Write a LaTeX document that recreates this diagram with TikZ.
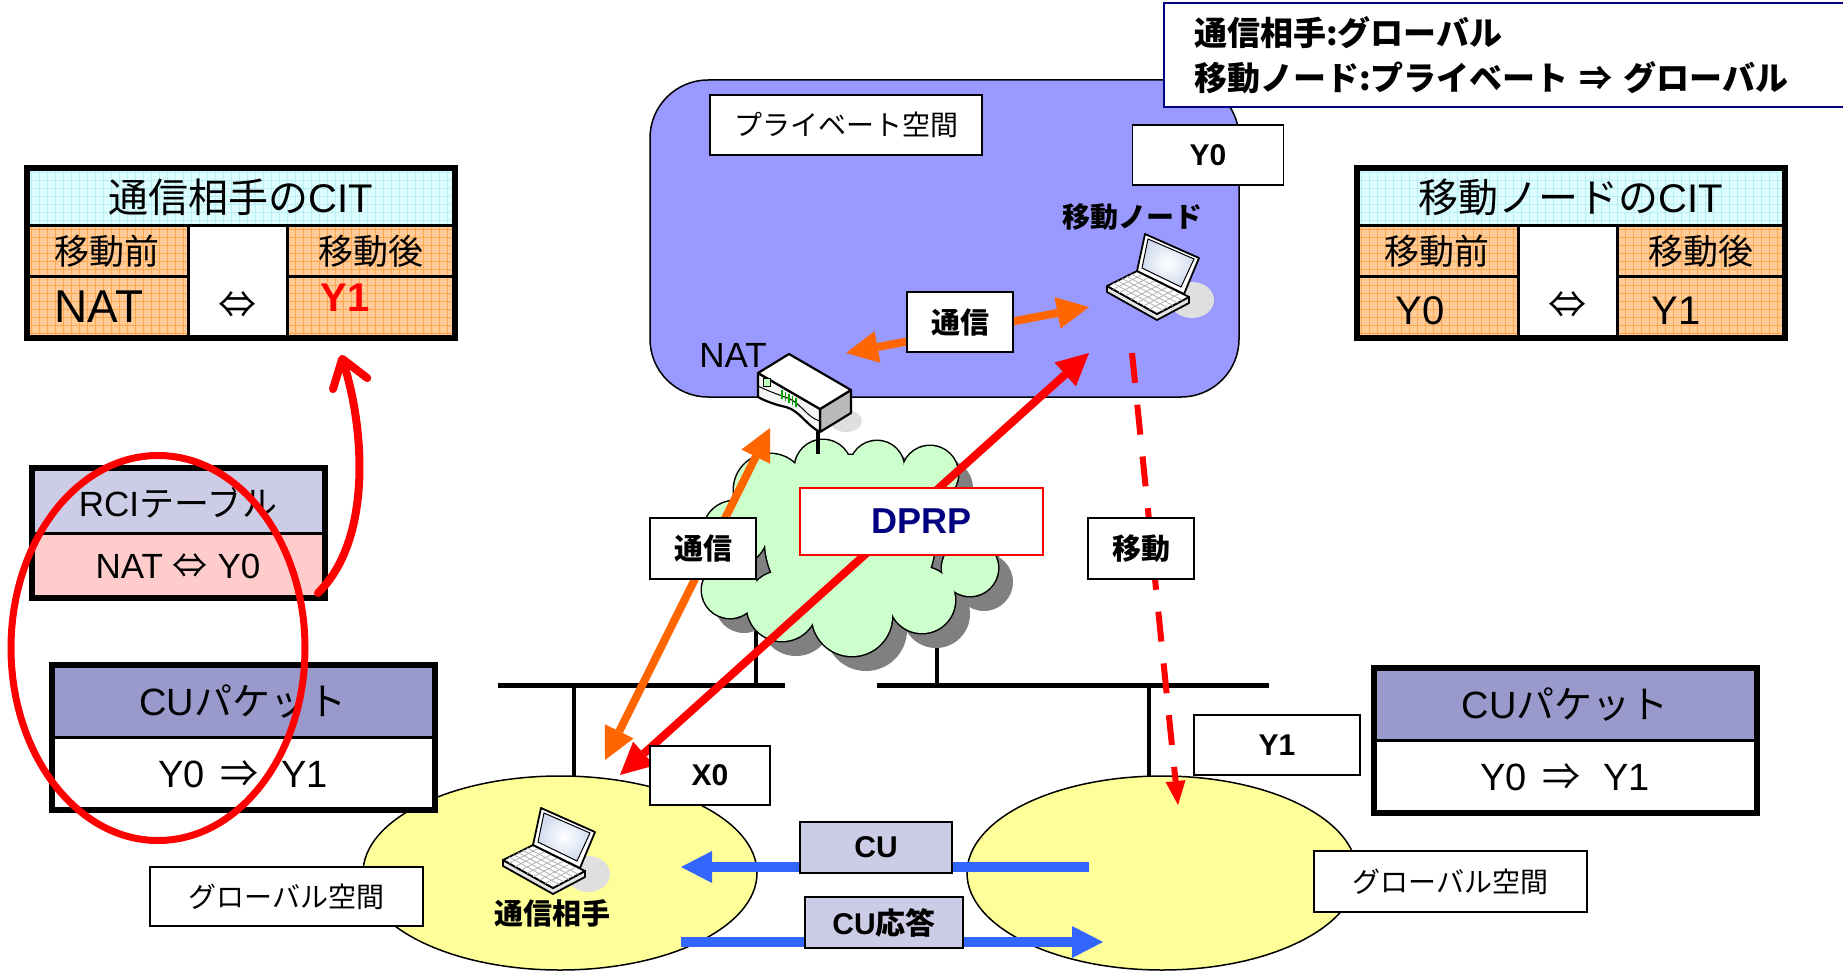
\documentclass[tikz,border=0pt]{standalone}
\usepackage{fontspec}
\setmainfont{Liberation Sans}
\newfontfamily\jp{Noto Sans CJK JP}
\usetikzlibrary{arrows.meta,calc,shapes.geometric}

\definecolor{privblue}{HTML}{9999FF}
\definecolor{cloudgreen}{HTML}{CCFFCC}
\definecolor{spaceyellow}{HTML}{FFFF99}
\definecolor{lavender}{HTML}{CCCCE6}
\definecolor{cuhead}{HTML}{9999CC}
\definecolor{rcirow}{HTML}{FFCCCC}
\definecolor{cithead}{HTML}{DDFDFF}
\definecolor{citgridc}{HTML}{B8EEF4}
\definecolor{citrow}{HTML}{FFCC99}
\definecolor{citgrido}{HTML}{FFA64D}
\definecolor{flowor}{HTML}{FF6600}
\definecolor{flowred}{HTML}{FF0000}
\definecolor{flowblue}{HTML}{3366FF}
\definecolor{navy}{HTML}{000080}
\definecolor{shadowgray}{HTML}{808080}
\definecolor{scrn}{HTML}{D2DCF0}

\newcommand\fsz[1]{\fontsize{#1}{#1}\selectfont}

\tikzset{
  box/.style={draw, fill=white, line width=1.5pt, inner sep=0pt},
  tag/.style={box, font=\fsz{30}\bfseries},
  jtag/.style={box, font=\fsz{29}\bfseries\jp},
  plain/.style={inner sep=0pt},
  bus/.style={line width=5pt},
  stub/.style={line width=4pt},
  flow/.style={line width=8pt},
  bigtip/.tip={Triangle[length=32pt,width=32pt,line width=0pt]},
  bluetip/.tip={Triangle[length=31pt,width=32pt,line width=0pt]},
  movetip/.tip={Triangle[length=24pt,width=20pt,line width=0pt]},
}

% cloud made of overlapping puffs, each enlarged by #1
\newcommand\cloudpuffs[1]{%
  \foreach \cx/\cy/\r in {823/468/28, 877/468/27, 930/474/28, 972/518/27,
      970/568/28, 922/600/33, 852/616/40, 782/606/35, 730/590/28,
      735/533/32, 770/490/36, 850/540/85}
    {\fill (\cx,\cy) circle[radius=\r+#1];}}

% notebook computer icon: #1 name, #2 position
\newcommand\laptop[2]{%
  \begin{scope}[shift={#2}]
    \coordinate (#1) at (0,0);
    \fill[gray!25] (40,22) ellipse[x radius=22, y radius=18];
    \coordinate (#1-a) at (-15,-7);
    \coordinate (#1-b) at (37,19);
    \coordinate (#1-c) at (5,36);
    \coordinate (#1-d) at (-45,8);
    \draw[line width=1.8pt, line join=round, fill=gray!20]
      (-45,8) -- (-45,14) -- (5,42) -- (37,25) -- (37,19) -- (5,36) -- cycle;
    \draw[line width=1.8pt, line join=round, fill=white]
      (#1-a) -- (#1-b) -- (#1-c) -- (#1-d) -- cycle;
    \foreach \t in {0.2,0.35,0.5,0.65,0.8}
      \draw[gray!60, line width=0.8pt] ($(#1-a)!\t!(#1-d)$) -- ($(#1-b)!\t!(#1-c)$);
    \foreach \t in {0.12,0.24,...,0.9}
      \draw[gray!60, line width=0.8pt] ($(#1-a)!\t!(#1-b)$) -- ($(#1-d)!\t!(#1-c)$);
    \draw[line width=1.8pt, line join=round, fill=white]
      (-15,-7) -- (32,16) -- (47,-20) -- (-7,-44) -- cycle;
    \path[inner color=white, outer color=scrn]
      (-10,-10) -- (29,9) -- (42,-19) -- (-4,-39) -- cycle;
    \draw[line width=1pt] (-10,-10) -- (29,9) -- (42,-19) -- (-4,-39) -- cycle;
  \end{scope}}

% address table of a node: #1 name, #2 left edge, #3 title
\newcommand\citframe[3]{%
  \begin{scope}[shift={(#2,0)}]
    \fill[cithead] (0,168) rectangle (428,225);
    \fill[citrow] (0,225) rectangle (161,338);
    \fill[citrow] (260,225) rectangle (428,338);
    \begin{scope}
      \clip (0,168) rectangle (428,225);
      \foreach \g in {4,12,...,428} \draw[citgridc, line width=0.6pt] (\g,168) -- (\g,225);
      \foreach \g in {172,180,...,225} \draw[citgridc, line width=0.6pt] (0,\g) -- (428,\g);
    \end{scope}
    \begin{scope}
      \clip (0,225) rectangle (161,338) (260,225) rectangle (428,338);
      \foreach \g in {4,12,...,428} \draw[citgrido, line width=0.6pt] (\g,225) -- (\g,338);
      \foreach \g in {229,237,...,338} \draw[citgrido, line width=0.6pt] (0,\g) -- (428,\g);
    \end{scope}
    \draw[line width=3pt] (0,225) -- (428,225) (161,225) -- (161,338)
      (260,225) -- (260,338) (0,276) -- (161,276) (260,276) -- (428,276);
    \draw[line width=6pt] (0,168) rectangle (428,338);
    \node[plain, font=\fsz{40}] (#1-title) at (214,197) {#3};
    \node[plain, font=\fsz{35}\jp] (#1-pre) at (80,251) {移動前};
    \node[plain, font=\fsz{35}\jp] (#1-post) at (344,251) {移動後};
    \node[plain, font=\fsz{38}\jp] (#1-link) at (210,305) {⇔};
  \end{scope}}

% CU packet table: #1 name, #2 top-left corner
\newcommand\cupacket[2]{%
  \begin{scope}[shift={#2}]
    \fill[white] (0,0) rectangle (383,145);
    \fill[cuhead] (0,0) rectangle (383,72);
    \draw[line width=3pt] (0,72) -- (383,72);
    \draw[line width=6pt] (0,0) rectangle (383,145);
    \node[plain, font=\fsz{38}] (#1-title) at (191,37) {CU{\jp パケット}};
    \node[plain, font=\fsz{38}] (#1-entry) at (191,109) {Y0\hspace{0.4em}{\jp ⇒}\hspace{0.6em}Y1};
  \end{scope}}

\begin{document}
\begin{tikzpicture}[x=1pt,y=-1pt]
\useasboundingbox (0,0) rectangle (1843,971);
\fill[white] (0,0) rectangle (1843,971);

% private address space
\node[draw, line width=1.5pt, fill=privblue, rounded corners=58pt,
      minimum width=589pt, minimum height=317pt, inner sep=0pt] (priv) at (944.5,238.5) {};

% network segments
\draw[bus] (498,685) -- (785,685);
\draw[bus] (877,685) -- (1269,685);
\draw[stub] (574,685) -- (574,782);
\draw[stub] (1149,685) -- (1149,782);
\draw[stub] (756,620) -- (756,685);
\draw[stub] (937,600) -- (937,685);

% internet cloud with drop shadow
\begin{scope}[shift={(14,14)}, shadowgray]
  \cloudpuffs{1}
\end{scope}
\begin{scope}[black]
  \cloudpuffs{1.5}
\end{scope}
\begin{scope}[cloudgreen]
  \cloudpuffs{0}
\end{scope}
\coordinate (cloud) at (850,540);

% NAT router
\coordinate (rtr) at (818,428);
\coordinate (cloudtop) at (818,454);
\draw[stub] (rtr) -- (cloudtop);
\fill[gray!25] (846,421) ellipse[x radius=16, y radius=11];
\draw[line width=2.2pt, line join=round, fill=gray!55]
  (820,409) -- (851,390) -- (851,413) -- (820,432) -- cycle;
\draw[line width=2.2pt, line join=round, fill=gray!8]
  (758,373) -- (820,409) -- (820,432) .. controls (806,425) and (800,411) .. (786,407)
  .. controls (776,405) and (765,401) .. (758,397) -- cycle;
\draw[line width=1pt] (758,386) .. controls (770,392) and (780,395) .. (790,399)
  .. controls (802,405) and (808,418) .. (820,421);
\draw[line width=2.2pt, line join=round, fill=white]
  (758,373) -- (789,354) -- (851,390) -- (820,409) -- cycle;
\draw[fill=green!25!white, line width=0.8pt] (763,378) rectangle (770,386);
\foreach \g in {0,...,4}
  \draw[green!65!black, line width=1.3pt] (782+3.5*\g,390+2*\g) -- ++(0,9);

% global address spaces
\node[draw, line width=1.5pt, fill=spaceyellow, ellipse, inner sep=0pt,
      minimum width=394pt, minimum height=194pt] (globL) at (560,873) {};
\node[draw, line width=1.5pt, fill=spaceyellow, ellipse, inner sep=0pt,
      minimum width=390pt, minimum height=194pt] (globR) at (1162,873) {};

% terminals
\laptop{mn}{(1152,278)}
\laptop{cn}{(548,852)}

% address tables
\citframe{citcn}{27}{{\jp 通信相手の}CIT}
\node[plain, font=\fsz{46}] (citcn-old) at (99,307) {NAT};
\node[plain, font=\fsz{40}\bfseries, text=flowred] (citcn-new) at (345,298) {Y1};
\citframe{citmn}{1357}{{\jp 移動ノードの}CIT}
\node[plain, font=\fsz{40}] (citmn-old) at (1420,311) {Y0};
\node[plain, font=\fsz{40}] (citmn-new) at (1676,311) {Y1};

\fill[lavender] (32,468) rectangle (325,533);
\fill[rcirow] (32,533) rectangle (325,598);
\draw[line width=3pt] (32,533) -- (325,533);
\draw[line width=6pt] (32,468) rectangle (325,598);
\node[plain, font=\fsz{35}] (rci-title) at (178,502) {RCI{\jp テーブル}};
\node[plain, font=\fsz{35}] (rci-entry) at (178,566) {NAT {\jp ⇔} Y0};

\cupacket{cupL}{(52,665)}
\cupacket{cupR}{(1374,668)}

% plain labels
\node[plain, font=\fsz{35}] (natlbl) at (733,355) {NAT};
\node[plain, font=\fsz{28}\bfseries\jp] (mnlbl) at (1132,217) {移動ノード};
\node[plain, font=\fsz{29}\bfseries\jp] (cnlbl) at (552,913) {通信相手};

% end points of the flows
\coordinate (natR) at (846,353);
\coordinate (mnL) at (1089,307);
\coordinate (natB) at (770,428);
\coordinate (cnT) at (605,760);
\coordinate (mnB) at (1089,353);
\coordinate (cnT2) at (620,775);
\coordinate (mnD) at (1132,353);
\coordinate (mnNew) at (1178,805);
\coordinate (cuFrom) at (1089,867);
\coordinate (cuTo) at (681,867);
\coordinate (crFrom) at (681,942);
\coordinate (crTo) at (1103,942);

% flows
\draw[flow, flowor, bigtip-bigtip] (natR) -- (mnL);
\draw[flow, flowor, bigtip-bigtip] (natB) -- (cnT);
\draw[flow, flowred, bigtip-bigtip] (mnB) -- (cnT2);
\draw[line width=6pt, flowred, dash pattern=on 30pt off 22pt, -movetip] (mnD) -- (mnNew);
\draw[line width=10pt, flowblue, -bluetip] (cuFrom) -- (cuTo);
\draw[line width=10pt, flowblue, -bluetip] (crFrom) -- (crTo);

% boxed labels
\node[box, minimum width=272pt, minimum height=60pt, font=\fsz{28}\jp] (privlbl) at (846,125) {プライベート空間};
\node[tag, minimum width=151pt, minimum height=60pt] (y0lbl) at (1208,155) {Y0};
\node[jtag, minimum width=106pt, minimum height=60pt] (comm1) at (960,322) {通信};
\node[jtag, minimum width=106pt, minimum height=61pt] (comm2) at (703,548.5) {通信};
\node[jtag, minimum width=106pt, minimum height=61pt] (movlbl) at (1141,548.5) {移動};
\node[box, draw=flowred, minimum width=243pt, minimum height=67pt,
      font=\fsz{36}\bfseries, text=navy] (dprp) at (921.5,521.5) {DPRP};
\node[tag, minimum width=120pt, minimum height=59pt] (x0lbl) at (710,775.5) {X0};
\node[tag, minimum width=166pt, minimum height=60pt] (y1lbl) at (1277,745) {Y1};
\node[tag, fill=lavender, minimum width=152pt, minimum height=51pt] (culbl) at (876,847.5) {CU};
\node[tag, fill=lavender, minimum width=158pt, minimum height=51pt] (curesp) at (884,922.5) {CU{\jp 応答}};
\node[box, minimum width=273pt, minimum height=59pt, font=\fsz{28}\jp] (globLlbl) at (286.5,896.5) {グローバル空間};
\node[box, minimum width=273pt, minimum height=61pt, font=\fsz{28}\jp] (globRlbl) at (1450.5,881.5) {グローバル空間};

% legend
\node[draw=navy, line width=2pt, fill=white, anchor=north west, minimum width=720pt,
      minimum height=104pt, text width=660pt, inner xsep=24pt, align=left,
      font=\fsz{33}\bfseries\jp] (legend) at (1163,2)
  {通信相手:グローバル\\[12pt]移動ノード:プライベート ⇒ グローバル};

% highlighted table and update
\node[draw=flowred, line width=7pt, ellipse, inner sep=0pt,
      minimum width=294pt, minimum height=385pt] (focus) at (158,648) {};
\coordinate (rciC) at (318,593);
\coordinate (citY1) at (341,355);
\draw[flowred, line width=8pt, line cap=round,
      -{Straight Barb[length=26pt,width=36pt,round]}]
  (rciC) .. controls (372,540) and (365,430) .. (citY1);
\end{tikzpicture}
\end{document}
